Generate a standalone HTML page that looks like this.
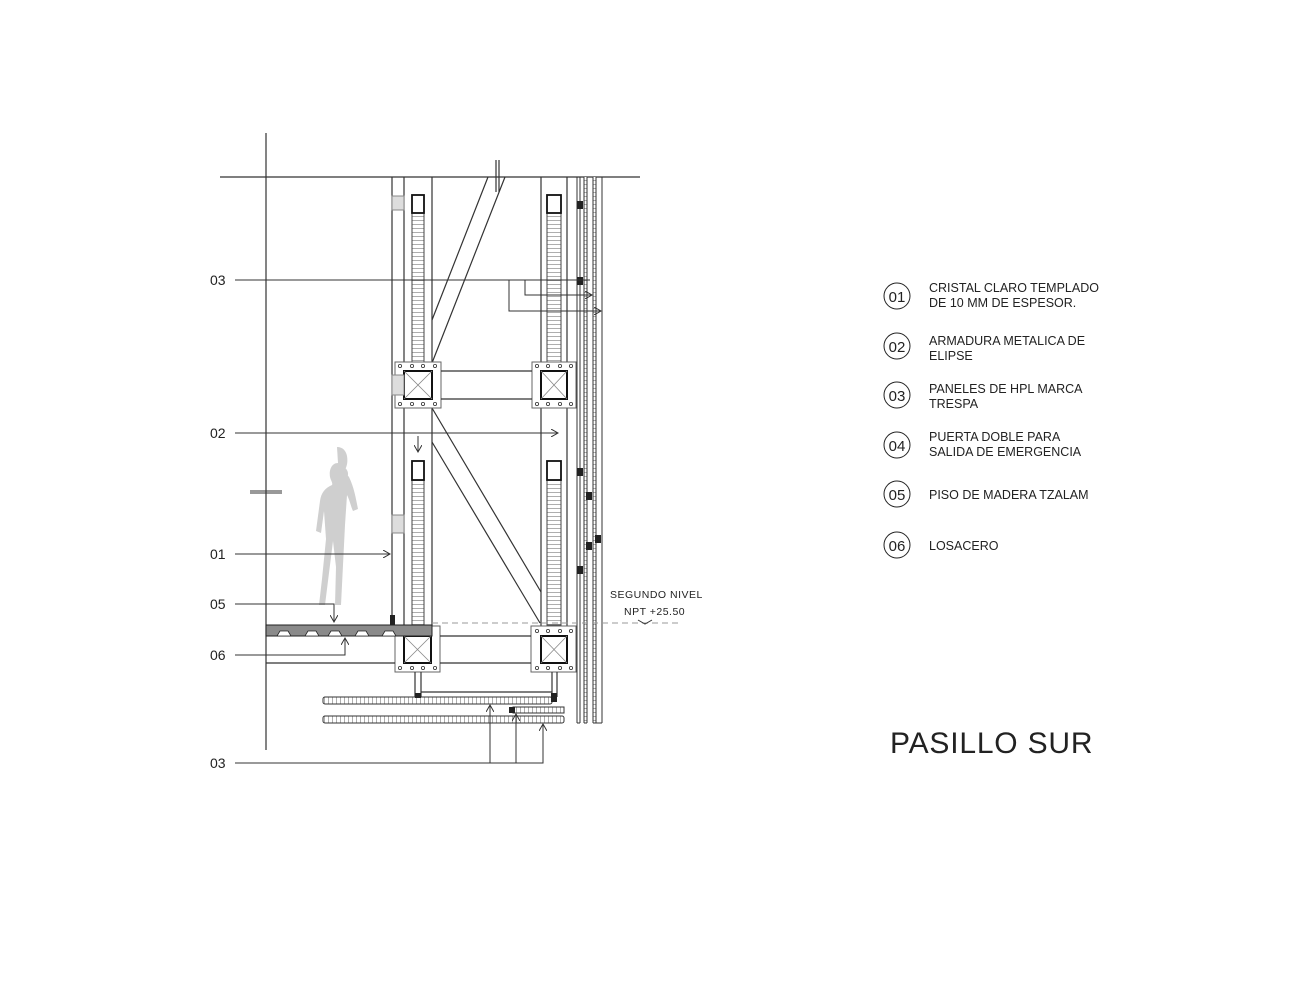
<!DOCTYPE html>
<html><head><meta charset="utf-8"><style>
html,body{margin:0;padding:0;background:#fff}
svg{display:block}
text{font-family:"Liberation Sans",sans-serif;fill:#222}
</style></head><body>
<svg width="1294" height="1000" viewBox="0 0 1294 1000" xmlns="http://www.w3.org/2000/svg">
<defs>
<pattern id="rung" width="4" height="4" patternUnits="userSpaceOnUse"><rect width="4" height="4" fill="#fff"/><line x1="0" y1="0.5" x2="4" y2="0.5" stroke="#999" stroke-width="0.8"/></pattern>
<pattern id="vrung" width="4" height="4" patternUnits="userSpaceOnUse"><rect width="4" height="4" fill="#fff"/><line x1="0.5" y1="0" x2="0.5" y2="4" stroke="#999" stroke-width="0.8"/></pattern>
<marker id="ar" markerWidth="8" markerHeight="8" refX="7" refY="4" orient="auto"><path d="M0,0 L7,4 L0,8" fill="none" stroke="#333" stroke-width="1"/></marker>
</defs>
<g stroke="#333" stroke-width="1.2" fill="none">
<line x1="220" y1="177" x2="640" y2="177"/>
<line x1="266" y1="133" x2="266" y2="750"/>
<line x1="392" y1="177" x2="392" y2="626"/>
<line x1="404" y1="177" x2="404" y2="626"/>
<line x1="432" y1="177" x2="432" y2="626"/>
<line x1="541" y1="177" x2="541" y2="626"/>
<line x1="567" y1="177" x2="567" y2="626"/>
</g>
<g stroke="#444" stroke-width="1">
<rect x="412" y="213" width="12" height="149" fill="url(#rung)"/>
<rect x="547" y="213" width="14" height="149" fill="url(#rung)"/>
<rect x="412" y="480" width="12" height="145" fill="url(#rung)"/>
<rect x="547" y="480" width="14" height="145" fill="url(#rung)"/>
</g>
<g stroke="#111" stroke-width="1.8" fill="#fff">
<rect x="412" y="195" width="12" height="18"/>
<rect x="547" y="195" width="14" height="18"/>
<rect x="412" y="461" width="12" height="19"/>
<rect x="547" y="461" width="14" height="19"/>
</g>
<rect x="584" y="177" width="3" height="546" fill="url(#rung)"/>
<rect x="593" y="177" width="3" height="546" fill="url(#rung)"/>
<g stroke="#333" stroke-width="1">
<line x1="577" y1="177" x2="577" y2="723"/><line x1="580" y1="177" x2="580" y2="723"/>
<line x1="584" y1="177" x2="584" y2="723"/><line x1="587" y1="177" x2="587" y2="723"/>
<line x1="593" y1="177" x2="593" y2="723"/><line x1="596" y1="177" x2="596" y2="723"/>
<line x1="602" y1="177" x2="602" y2="723"/>
<line x1="577" y1="723" x2="580" y2="723"/><line x1="584" y1="723" x2="587" y2="723"/><line x1="593" y1="723" x2="602" y2="723"/>
</g>
<g fill="#222">
<rect x="577" y="201" width="6" height="8"/><rect x="577" y="277" width="6" height="8"/>
<rect x="577" y="468" width="6" height="8"/><rect x="586" y="492" width="6" height="8"/>
<rect x="586" y="542" width="6" height="8"/><rect x="595" y="535" width="6" height="8"/>
<rect x="577" y="566" width="6" height="8"/>
</g>
<g stroke="#333" stroke-width="1.2" fill="none">
<line x1="488" y1="177" x2="432" y2="320"/>
<line x1="505" y1="177" x2="432" y2="363"/>
<line x1="432" y1="408" x2="541" y2="592"/>
<line x1="432" y1="442" x2="540" y2="623"/>
<line x1="496" y1="160" x2="496" y2="192"/>
<line x1="499" y1="160" x2="499" y2="192"/>
</g>
<g stroke="#666" stroke-width="1" fill="#fff">
<rect x="395" y="362" width="46" height="46"/>
<rect x="532" y="362" width="44" height="46"/>
<rect x="395" y="626" width="45" height="46"/>
<rect x="531" y="626" width="45" height="46"/>
</g>
<g stroke="#333" stroke-width="1.2">
<line x1="441" y1="371" x2="532" y2="371"/><line x1="441" y1="399" x2="532" y2="399"/>
<line x1="440" y1="636" x2="531" y2="636"/><line x1="440" y1="663" x2="531" y2="663"/>
</g>
<g stroke="#111" stroke-width="2" fill="#fff">
<rect x="404" y="371" width="28" height="28"/>
<rect x="541" y="371" width="26" height="28"/>
<rect x="404" y="636" width="27" height="27"/>
<rect x="541" y="636" width="26" height="27"/>
</g>
<g stroke="#888" stroke-width="0.8">
<path d="M404,371 L432,399 M432,371 L404,399"/>
<path d="M541,371 L567,399 M567,371 L541,399"/>
<path d="M404,636 L431,663 M431,636 L404,663"/>
<path d="M541,636 L567,663 M567,636 L541,663"/>
</g>
<g fill="#fff" stroke="#333" stroke-width="0.8">
<circle cx="400" cy="366" r="1.6"/><circle cx="412" cy="366" r="1.6"/><circle cx="423" cy="366" r="1.6"/><circle cx="435" cy="366" r="1.6"/>
<circle cx="400" cy="404" r="1.6"/><circle cx="412" cy="404" r="1.6"/><circle cx="423" cy="404" r="1.6"/><circle cx="435" cy="404" r="1.6"/>
<circle cx="537" cy="366" r="1.6"/><circle cx="548" cy="366" r="1.6"/><circle cx="560" cy="366" r="1.6"/><circle cx="571" cy="366" r="1.6"/>
<circle cx="537" cy="404" r="1.6"/><circle cx="548" cy="404" r="1.6"/><circle cx="560" cy="404" r="1.6"/><circle cx="571" cy="404" r="1.6"/>
<circle cx="400" cy="668" r="1.6"/><circle cx="412" cy="668" r="1.6"/><circle cx="423" cy="668" r="1.6"/><circle cx="435" cy="668" r="1.6"/>
<circle cx="537" cy="631" r="1.6"/><circle cx="548" cy="631" r="1.6"/><circle cx="560" cy="631" r="1.6"/><circle cx="571" cy="631" r="1.6"/>
<circle cx="537" cy="668" r="1.6"/><circle cx="548" cy="668" r="1.6"/><circle cx="560" cy="668" r="1.6"/><circle cx="571" cy="668" r="1.6"/>
</g>
<g stroke="#888" stroke-width="1" fill="#ddd">
<rect x="392" y="196" width="12" height="14"/><rect x="392" y="375" width="12" height="20"/><rect x="392" y="515" width="12" height="18"/>
</g>
<rect x="266" y="625" width="166" height="11" fill="#8a8a8a" stroke="#222" stroke-width="1"/>
<g fill="#fff" stroke="#222" stroke-width="0.8">
<path d="M277,636 l3,-5 h8 l3,5z"/><path d="M305,636 l3,-5 h8 l3,5z"/><path d="M328,636 l3,-5 h8 l3,5z"/><path d="M355,636 l3,-5 h8 l3,5z"/><path d="M382,636 l3,-5 h8 l3,5z"/>
</g>
<rect x="390" y="615" width="5" height="10" fill="#222"/>
<line x1="432" y1="623" x2="680" y2="623" stroke="#999" stroke-width="1" stroke-dasharray="6,4"/>
<g stroke="#333" stroke-width="1.2" fill="none">
<line x1="266" y1="663" x2="395" y2="663"/>
<line x1="415" y1="672" x2="415" y2="697"/><line x1="421" y1="672" x2="421" y2="697"/>
<line x1="552" y1="672" x2="552" y2="697"/><line x1="557" y1="672" x2="557" y2="697"/>
<line x1="421" y1="692" x2="552" y2="692"/>
</g>
<g stroke="#333" stroke-width="1">
<rect x="323" y="697" width="229" height="7" rx="2" fill="url(#vrung)"/>
<rect x="323" y="716" width="241" height="7" rx="2" fill="url(#vrung)"/>
<rect x="513" y="707" width="51" height="6" fill="url(#vrung)"/>
</g>
<g fill="#222"><rect x="415" y="693" width="6" height="5"/><rect x="551" y="693" width="6" height="9"/><rect x="509" y="707" width="6" height="6"/></g>
<circle cx="340" cy="474" r="8" fill="#cfcfcf"/>
<path d="M338,463 c-7,0 -9,8 -8,14 c1,4 3,6 2,8 c-7,3 -11,8 -12,16 l-4,30 l5,2 l3,-22 l2,28 l-4,40 l-3,26 h6 l5,-40 l3,-24 l3,26 l-1,38 h6 l2,-40 l2,-40 l2,-30 c3,6 4,12 6,16 l5,-2 c-2,-10 -4,-22 -9,-32 c-2,-3 -5,-4 -5,-6 c3,-4 4,-9 3,-15 c-1,-5 -4,-9 -10,-9z" fill="#cfcfcf"/>
<g stroke="#333" stroke-width="1" fill="none">
<line x1="235" y1="280" x2="590" y2="280"/>
<polyline points="525,280 525,295 592,295" marker-end="url(#ar)"/>
<polyline points="509,280 509,311 601,311" marker-end="url(#ar)"/>
<line x1="235" y1="433" x2="558" y2="433" marker-end="url(#ar)"/>
<line x1="418" y1="436" x2="418" y2="452" marker-end="url(#ar)"/>
<line x1="235" y1="554" x2="390" y2="554" marker-end="url(#ar)"/>
<polyline points="235,604 334,604 334,622" marker-end="url(#ar)"/>
<polyline points="235,655 345,655 345,638" marker-end="url(#ar)"/>
<polyline points="235,763 543,763 543,724" marker-end="url(#ar)"/>
<line x1="490" y1="763" x2="490" y2="705" marker-end="url(#ar)"/>
<line x1="516" y1="763" x2="516" y2="714" marker-end="url(#ar)"/>
<line x1="250" y1="491" x2="282" y2="491"/>
<line x1="250" y1="493" x2="282" y2="493"/>
<path d="M638,620 l7,4 l7,-4"/>
</g>
<text x="210" y="285" font-size="14">03</text>
<text x="210" y="438" font-size="14">02</text>
<text x="210" y="559" font-size="14">01</text>
<text x="210" y="609" font-size="14">05</text>
<text x="210" y="660" font-size="14">06</text>
<text x="210" y="768" font-size="14">03</text>
<text x="610" y="598" font-size="10.5" letter-spacing="0.5">SEGUNDO  NIVEL</text>
<text x="624" y="615" font-size="10.5" letter-spacing="0.5">NPT  +25.50</text>
<g stroke="#222" stroke-width="1" fill="none">
<circle cx="897" cy="296" r="13"/><circle cx="897" cy="346" r="13"/><circle cx="897" cy="395" r="13"/>
<circle cx="897" cy="445" r="13"/><circle cx="897" cy="494" r="13"/><circle cx="897" cy="545" r="13"/>
</g>
<g font-size="15" text-anchor="middle">
<text x="897" y="302">01</text><text x="897" y="352">02</text><text x="897" y="401">03</text>
<text x="897" y="451">04</text><text x="897" y="500">05</text><text x="897" y="551">06</text>
</g>
<g font-size="12.5">
<text x="929" y="292">CRISTAL CLARO TEMPLADO</text><text x="929" y="307">DE 10 MM DE ESPESOR.</text>
<text x="929" y="345">ARMADURA METALICA DE</text><text x="929" y="360">ELIPSE</text>
<text x="929" y="393">PANELES DE HPL MARCA</text><text x="929" y="408">TRESPA</text>
<text x="929" y="441">PUERTA DOBLE PARA</text><text x="929" y="456">SALIDA DE EMERGENCIA</text>
<text x="929" y="499">PISO DE MADERA TZALAM</text>
<text x="929" y="550">LOSACERO</text>
</g>
<text x="890" y="753" font-size="30" letter-spacing="0.8">PASILLO SUR</text>
</svg>
</body></html>
